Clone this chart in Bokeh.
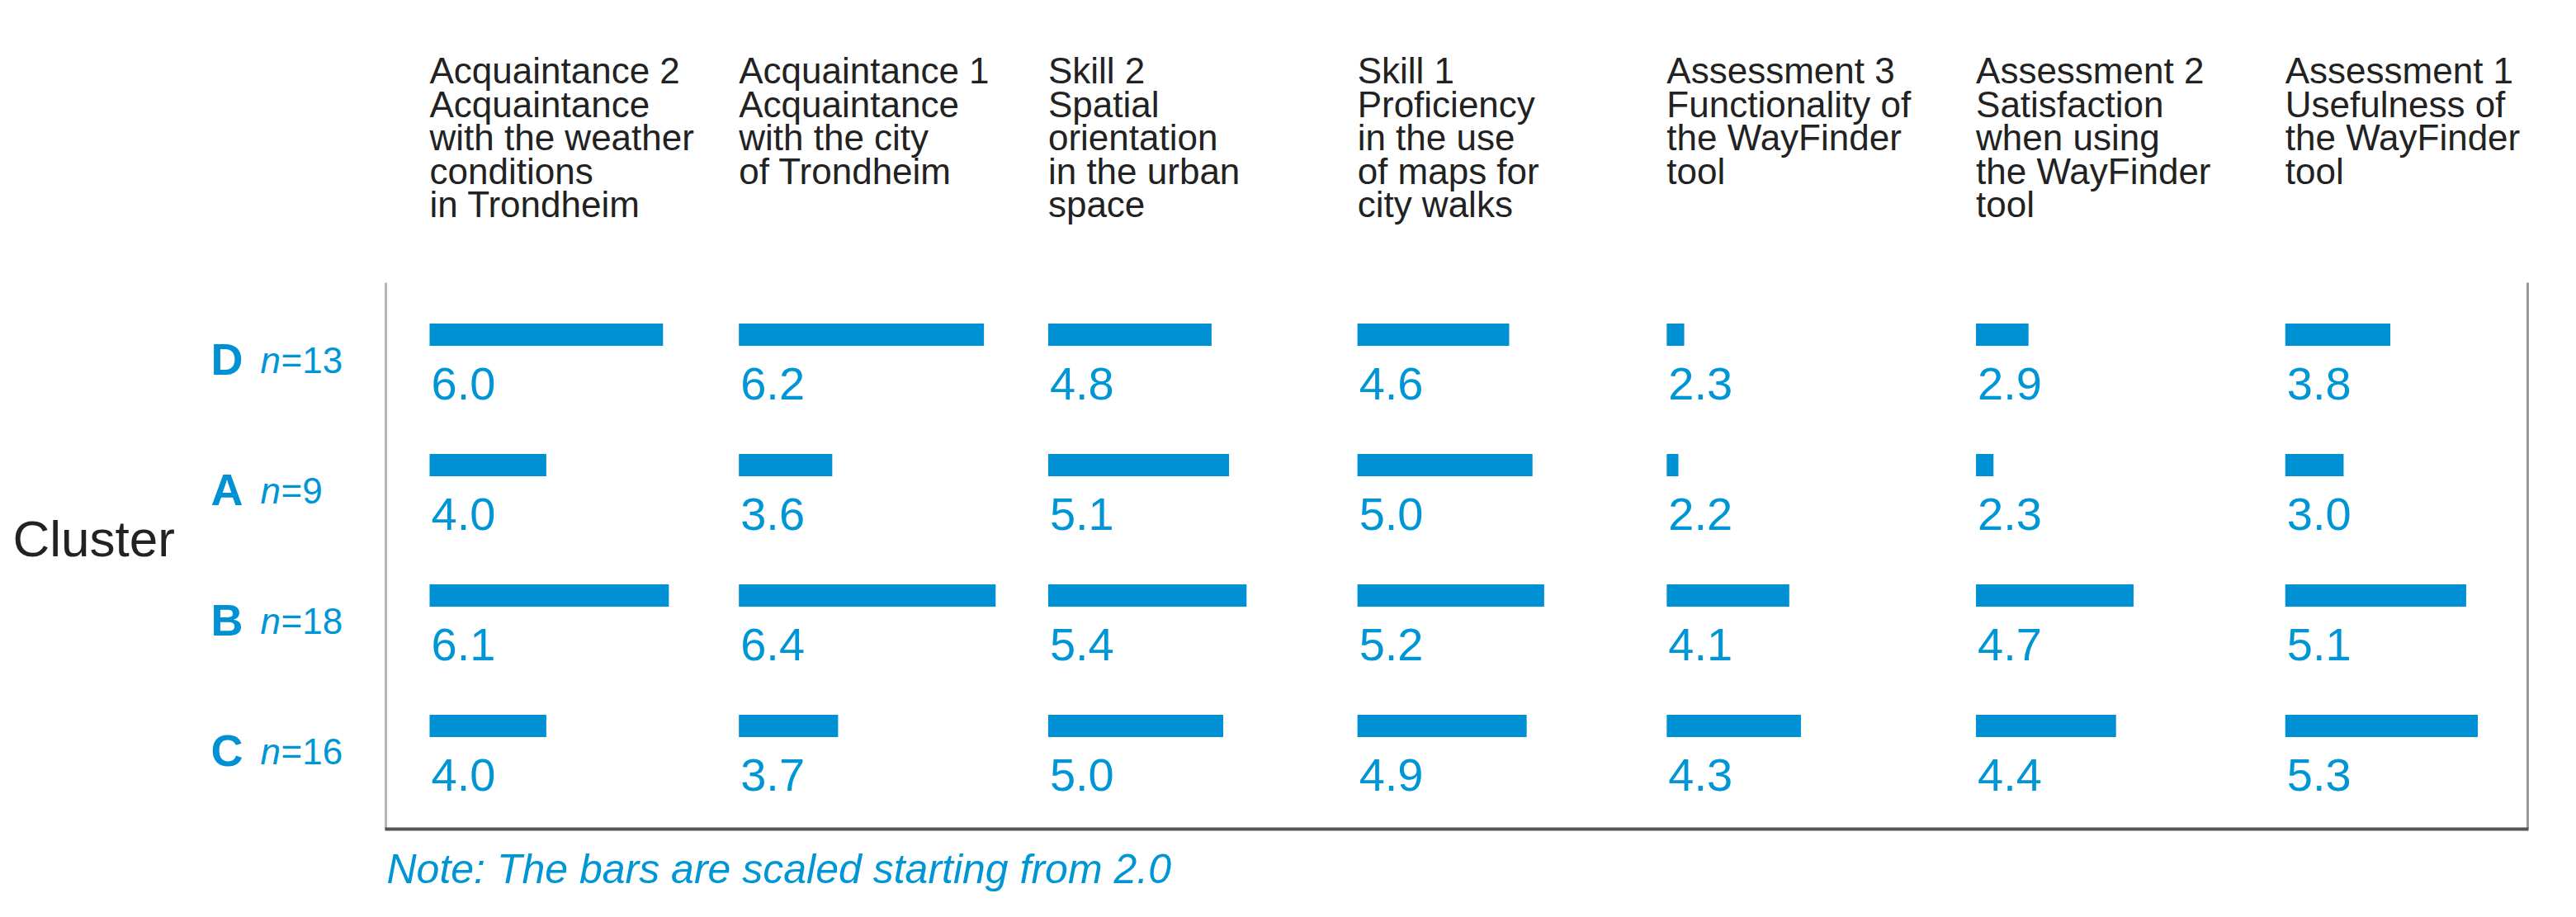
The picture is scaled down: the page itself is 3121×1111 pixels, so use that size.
from bokeh.plotting import figure
from bokeh.models import Range1d, ColumnDataSource
from bokeh.core.properties import value
from bokeh.embed import file_html
from bokeh.resources import INLINE

# ---------------- data ----------------
headers = [
    ["Acquaintance 2", "Acquaintance", "with the weather", "conditions", "in Trondheim"],
    ["Acquaintance 1", "Acquaintance", "with the city", "of Trondheim"],
    ["Skill 2", "Spatial", "orientation", "in the urban", "space"],
    ["Skill 1", "Proficiency", "in the use", "of maps for", "city walks"],
    ["Assessment 3", "Functionality of", "the WayFinder", "tool"],
    ["Assessment 2", "Satisfaction", "when using", "the WayFinder", "tool"],
    ["Assessment 1", "Usefulness of", "the WayFinder", "tool"],
]
clusters = ["D", "A", "B", "C"]
cluster_n = [13, 9, 18, 16]
values_D = [6.0, 6.2, 4.8, 4.6, 2.3, 2.9, 3.8]
values_A = [4.0, 3.6, 5.1, 5.0, 2.2, 2.3, 3.0]
values_B = [6.1, 6.4, 5.4, 5.2, 4.1, 4.7, 5.1]
values_C = [4.0, 3.7, 5.0, 4.9, 4.3, 4.4, 5.3]
rows_values = [values_D, values_A, values_B, values_C]
bar_base = 2.0
y_title = "Cluster"
note = "Note: The bars are scaled starting from 2.0"

# ---------------- layout ----------------
W, H = 3105, 1095
PPU = 70.7          # pixels per score unit
COL_STEP = 5.3      # column spacing in score units
X0_PX = 520         # pixel x of first column base
ROW_Y0 = 405
ROW_STEP = 158
BLUE = "#0090d4"
TBLUE = "#0096d6"
DARK = "#222222"
FONT = "Liberation Sans"


def ux(px):
    return (px - X0_PX) / PPU


p = figure(width=W, height=H, x_range=Range1d(ux(0), ux(W)), y_range=Range1d(H, 0),
           output_backend="svg", toolbar_location=None,
           x_axis_type=None, y_axis_type=None, min_border=0)
p.grid.grid_line_color = None
p.outline_line_color = None
p.background_fill_color = "white"
p.border_fill_color = "white"

# bars + value labels
ys, lefts, rights, labels = [], [], [], []
for i, vals in enumerate(rows_values):
    for k, v in enumerate(vals):
        ys.append(ROW_Y0 + i * ROW_STEP)
        lefts.append(k * COL_STEP)
        rights.append(k * COL_STEP + (v - bar_base))
        labels.append(f"{v:.1f}")
src = ColumnDataSource(dict(y=ys, left=lefts, right=rights, label=labels,
                            ty=[y + 59 for y in ys], tx=[l + 2 / PPU for l in lefts]))
p.hbar(y="y", left="left", right="right", height=27, source=src,
       fill_color=BLUE, line_color=None)
p.text(x="tx", y="ty", text="label", source=src, text_font=value(FONT),
       text_font_size="56px", text_color=TBLUE, text_baseline="middle",
       text_align="left")

# headers
for k, lines in enumerate(headers):
    for j, line in enumerate(lines):
        p.text(x=[k * COL_STEP], y=[85 + j * 40.5], text=[line], text_font=value(FONT),
               text_font_size="44px", text_color=DARK, text_baseline="middle",
               text_align="left")

# row labels
for i, (c, n) in enumerate(zip(clusters, cluster_n)):
    yc = ROW_Y0 + i * ROW_STEP + 29
    p.text(x=[ux(255)], y=[yc], text=[c], text_font=value(FONT), text_font_size="54px",
           text_font_style="bold", text_color=BLUE, text_baseline="middle")
    p.text(x=[ux(315)], y=[yc + 2], text=["n"], text_font=value(FONT), text_font_size="44px",
           text_font_style="italic", text_color=TBLUE, text_baseline="middle")
    p.text(x=[ux(340)], y=[yc + 2], text=[f"={n}"], text_font=value(FONT), text_font_size="44px",
           text_color=TBLUE, text_baseline="middle")

p.text(x=[ux(15)], y=[652], text=[y_title], text_font=value(FONT), text_font_size="62px",
       text_color=DARK, text_baseline="middle")

# frame
p.segment(x0=[ux(467)], y0=[342], x1=[ux(467)], y1=[1004], line_color="#b5b5b5", line_width=3)
p.segment(x0=[ux(3062)], y0=[342], x1=[ux(3062)], y1=[1004], line_color="#9a9a9a", line_width=3)
p.segment(x0=[ux(466)], y0=[1004], x1=[ux(3063)], y1=[1004], line_color="#555555", line_width=4)

# note
p.text(x=[ux(468)], y=[1052], text=[note], text_font=value(FONT), text_font_size="50px",
       text_font_style="italic", text_color=TBLUE, text_baseline="middle")

open("out.html", "w").write(file_html(p, INLINE))
